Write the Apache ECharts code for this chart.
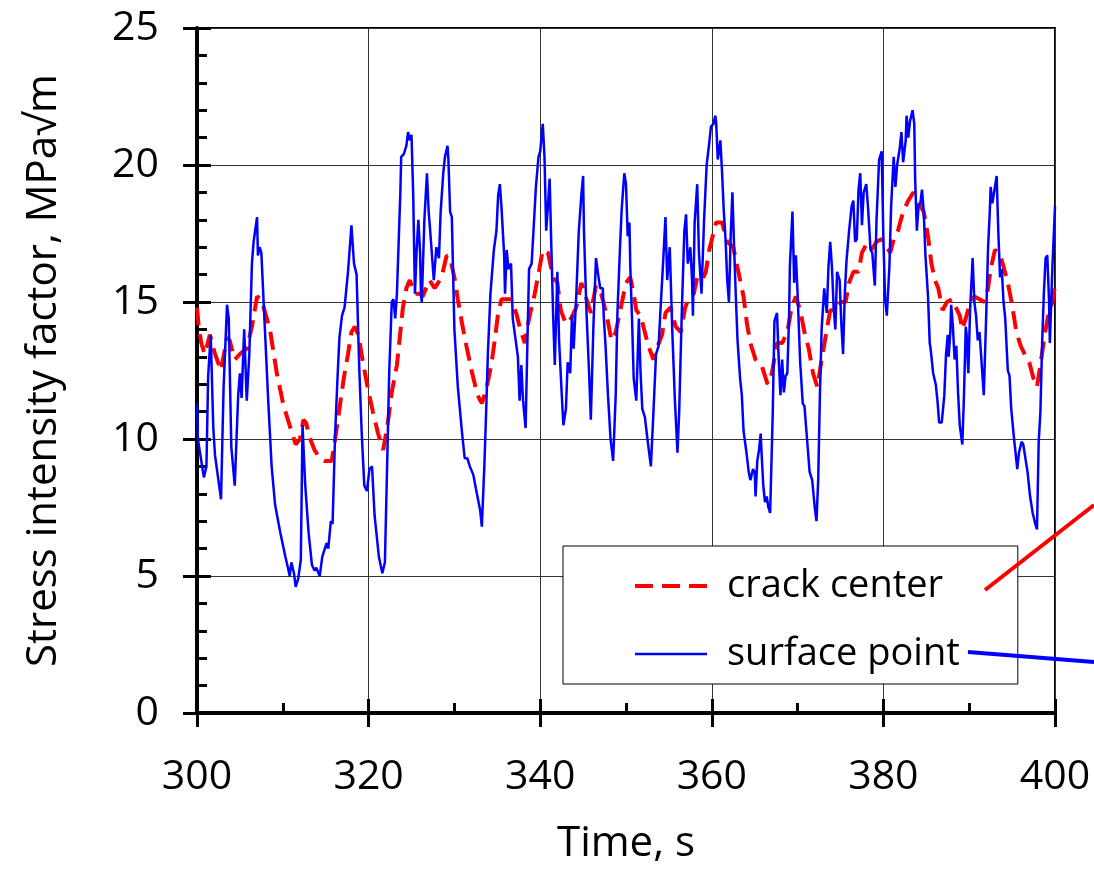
<!DOCTYPE html>
<html><head><meta charset="utf-8">
<script src="https://cdn.jsdelivr.net/npm/echarts@6/dist/echarts.min.js"></script>
<style>html,body{margin:0;padding:0;background:#fff}#c{width:1094px;height:870px}</style>
</head><body><div id="c"></div><script>
const xRange = [300, 400];
const xStep = 20;
const yRange = [0, 25];
const yStep = 5;

const surfaceTime = [300.0,300.1,300.8,301.1,301.3,301.6,301.9,302.1,302.3,302.8,303.1,303.5,303.7,304.0,304.4,304.8,305.0,305.2,305.5,305.8,306.1,306.4,306.6,307.0,307.1,307.3,307.5,307.9,308.3,308.7,309.1,309.7,310.3,310.6,310.8,311.0,311.3,311.5,311.8,312.1,312.3,312.6,313.0,313.4,313.7,313.9,314.3,314.6,315.1,315.3,315.6,315.8,316.1,316.4,316.6,316.9,317.1,317.2,317.6,318.0,318.3,318.6,318.9,319.2,319.5,319.8,320.1,320.4,320.7,321.2,321.6,321.9,322.2,322.4,322.7,322.9,323.1,323.3,323.7,323.8,324.1,324.4,324.6,324.8,325.0,325.2,325.4,325.6,325.8,326.0,326.1,326.2,326.5,326.8,327.0,327.2,327.4,327.6,327.9,328.2,328.4,328.7,328.9,329.2,329.3,329.5,329.7,330.0,330.4,330.6,330.9,331.2,331.5,331.8,332.2,332.5,333.0,333.2,333.5,333.7,333.9,334.2,334.6,334.9,335.1,335.3,335.5,335.8,335.9,336.1,336.3,336.6,336.8,337.1,337.4,337.6,337.8,338.0,338.3,338.5,338.7,339.0,339.2,339.5,339.8,340.0,340.3,340.5,340.7,340.9,341.1,341.3,341.5,341.7,342.0,342.2,342.5,342.7,343.0,343.2,343.5,343.7,343.9,344.2,344.5,344.8,345.0,345.1,345.4,345.7,345.9,346.2,346.5,346.8,347.0,347.3,347.4,347.6,347.9,348.2,348.5,348.8,349.0,349.3,349.5,349.8,350.0,350.2,350.4,350.5,350.7,350.9,351.2,351.5,351.7,351.9,352.2,352.5,352.9,353.2,353.5,353.8,354.0,354.3,354.6,354.8,355.1,355.4,355.7,356.0,356.2,356.5,356.8,357.0,357.2,357.5,357.7,357.8,358.0,358.3,358.5,358.8,359.1,359.4,359.7,359.9,360.2,360.4,360.5,360.7,361.0,361.2,361.4,361.6,361.8,362.0,362.2,362.4,362.6,362.8,363.0,363.3,363.5,363.7,364.0,364.3,364.5,364.8,365.0,365.1,365.3,365.5,365.7,365.8,366.0,366.2,366.4,366.6,366.8,367.1,367.3,367.6,367.8,368.0,368.2,368.4,368.6,368.8,369.0,369.1,369.4,369.6,369.8,370.0,370.3,370.6,370.8,371.1,371.4,371.7,372.0,372.2,372.4,372.6,372.8,373.1,373.2,373.4,373.6,373.8,374.0,374.2,374.4,374.6,374.9,375.1,375.3,375.5,375.7,376.0,376.3,376.5,376.7,376.9,377.1,377.3,377.5,377.7,378.0,378.2,378.5,378.7,379.0,379.2,379.5,379.8,380.0,380.2,380.4,380.7,380.9,381.2,381.4,381.6,381.9,382.1,382.3,382.6,382.7,382.9,383.1,383.4,383.6,383.7,383.9,384.1,384.3,384.5,384.7,384.9,385.2,385.4,385.5,385.8,386.1,386.3,386.5,386.8,387.1,387.3,387.5,387.6,387.8,387.9,388.1,388.3,388.5,388.7,388.9,389.2,389.4,389.6,389.7,389.9,390.1,390.4,390.6,390.8,391.0,391.2,391.4,391.7,392.0,392.2,392.4,392.5,392.7,392.9,393.2,393.4,393.6,393.8,394.0,394.2,394.5,394.7,394.9,395.2,395.4,395.6,395.8,396.1,396.3,396.5,396.8,397.1,397.4,397.7,397.9,398.1,398.3,398.5,398.7,398.9,399.1,399.3,399.4,399.7,400.0];
const surfaceK = [11.3,10.0,8.6,9.0,12.3,13.8,10.4,9.4,9.4,7.8,11.9,14.9,14.4,9.7,8.3,11.6,12.4,11.5,14.0,11.4,13.1,16.4,17.2,18.1,16.7,17.0,16.8,14.1,11.4,9.0,7.6,6.6,5.7,5.3,5.0,5.5,5.1,4.6,4.9,5.6,10.5,8.4,6.6,5.4,5.2,5.3,5.0,5.7,6.2,6.0,7.0,6.9,10.2,12.4,13.7,14.5,14.5,14.8,16.1,17.8,16.4,16.0,12.7,10.2,8.3,8.1,8.9,9.0,7.2,5.7,5.1,5.5,9.6,12.4,15.0,15.1,14.4,15.3,19.0,20.3,20.4,20.7,21.2,20.9,21.1,18.9,15.3,16.9,18.0,16.8,15.3,15.0,18.0,19.7,18.3,17.5,17.5,15.8,17.0,16.6,18.3,19.7,20.3,20.7,20.2,18.3,18.1,14.0,11.9,11.9,10.2,9.3,9.3,9.0,8.7,8.2,7.4,6.8,9.1,11.0,13.1,15.3,16.9,17.6,18.9,19.3,18.4,16.7,15.3,16.9,16.2,16.4,14.4,13.7,13.0,11.4,12.7,11.4,10.4,13.4,16.2,16.4,17.5,19.2,20.3,20.5,21.5,20.3,17.6,18.5,19.5,17.0,14.6,12.7,16.1,13.6,11.7,10.5,11.1,12.8,12.4,14.5,13.3,15.2,17.6,18.9,19.6,17.6,14.6,12.4,10.7,14.1,16.6,15.9,15.5,15.5,14.5,13.5,11.6,10.0,9.2,11.6,14.6,17.0,18.4,19.7,19.3,17.4,17.9,16.3,14.4,12.2,11.4,14.4,12.4,11.1,10.8,10.0,9.0,11.0,13.1,13.4,14.6,16.3,18.1,15.8,17.0,13.9,11.4,9.5,11.0,14.6,17.6,18.2,16.4,17.0,15.8,14.5,17.9,19.3,16.8,15.3,18.0,20.0,20.8,21.4,21.5,21.8,21.6,20.2,20.9,19.7,18.3,17.3,15.8,15.0,17.4,19.0,17.0,15.2,13.6,12.2,11.6,10.3,9.6,8.8,8.5,8.9,8.8,7.9,9.2,9.6,10.2,9.5,8.3,7.7,7.9,7.5,7.3,10.9,14.3,14.6,12.9,11.6,12.9,11.7,12.3,12.4,14.4,16.3,18.3,15.7,16.7,15.3,12.8,11.3,11.2,10.0,8.8,8.5,7.5,7.0,8.5,11.6,14.0,15.5,15.2,14.6,16.3,17.2,16.3,14.8,14.0,16.1,15.8,14.2,13.1,15.3,16.5,17.6,18.5,18.7,17.2,17.3,19.1,19.7,17.8,19.0,19.3,18.5,16.9,16.8,15.6,18.0,20.2,20.5,17.3,15.1,14.5,16.3,18.5,20.3,19.2,20.0,20.6,21.2,20.1,20.9,21.8,21.0,21.6,22.0,21.5,19.5,17.6,18.5,18.6,19.1,18.3,16.7,15.2,13.5,13.3,12.4,12.0,11.4,10.6,10.6,11.6,13.1,13.8,13.0,13.9,14.9,14.1,12.9,13.4,11.7,10.5,9.8,11.7,14.1,13.8,12.4,14.7,16.6,15.0,14.5,13.6,13.9,13.0,11.6,14.7,17.0,18.3,19.2,18.6,19.0,19.6,17.5,15.9,16.2,15.0,14.4,12.5,12.3,11.1,10.1,9.5,8.9,9.5,9.9,9.8,9.8,8.8,7.9,7.3,6.9,6.7,9.9,11.0,13.5,15.3,16.6,16.7,15.1,13.5,16.3,18.5];

const centerTime = [300.0,300.2,300.5,300.9,301.5,302.1,302.8,303.5,303.8,304.4,305.0,305.8,306.4,307.0,307.5,308.5,309.3,310.1,310.8,311.5,312.0,312.4,312.7,313.2,313.7,314.3,314.9,315.7,316.1,316.6,317.1,317.6,318.0,318.4,318.8,319.4,320.0,320.5,321.1,321.7,322.2,322.7,323.3,323.7,324.0,324.4,324.8,325.4,326.0,326.3,327.1,327.7,328.5,329.1,329.5,330.0,330.4,330.9,331.4,332.0,332.7,333.2,333.7,334.3,334.7,335.1,335.5,336.1,336.6,337.2,337.6,338.2,338.7,339.3,339.9,340.3,340.9,341.5,342.0,342.4,343.0,343.6,344.2,344.8,345.3,345.9,346.5,347.1,347.7,348.3,348.8,349.4,350.0,350.5,350.9,351.2,351.7,352.2,352.6,353.2,353.7,354.2,354.6,355.2,355.8,356.4,356.9,357.4,357.9,358.3,358.9,359.3,359.7,360.1,360.5,361.2,361.8,362.5,363.1,363.7,364.1,364.5,365.1,365.8,366.5,367.0,367.6,368.2,368.8,369.3,369.8,370.3,370.8,371.3,371.8,372.3,372.8,373.3,373.8,374.4,375.0,375.6,376.0,376.5,377.1,377.5,378.0,378.6,379.2,379.8,380.4,380.8,381.2,381.7,382.3,382.9,383.5,384.1,384.7,385.2,385.6,386.0,386.4,386.9,387.4,388.0,388.9,389.2,389.6,390.1,390.6,391.2,391.8,392.2,392.5,393.0,393.5,394.0,394.5,395.0,395.5,396.0,396.6,397.0,397.5,397.9,398.3,398.8,399.2,399.7,400.0];
const centerK = [14.8,14.1,13.5,13.1,13.8,13.1,12.5,13.7,13.6,12.9,13.1,13.3,14.1,15.2,15.1,14.0,12.4,11.2,10.5,9.8,10.0,10.7,10.6,10.0,9.6,9.3,9.2,9.2,10.0,11.1,12.2,13.1,13.9,14.1,13.8,12.7,11.7,11.0,10.2,9.6,10.5,11.7,12.7,13.9,14.8,15.5,15.8,15.3,15.3,15.2,15.8,15.5,15.9,16.7,16.6,15.9,15.1,14.2,13.4,12.5,11.6,11.3,11.8,12.7,13.6,14.6,15.1,15.1,15.1,14.6,14.1,13.5,14.4,15.2,16.2,16.9,16.8,15.9,15.7,14.7,14.2,14.4,14.8,15.7,15.2,14.6,15.6,15.3,14.6,13.6,13.9,14.8,15.7,15.9,15.3,14.7,14.5,13.9,13.4,12.9,13.4,13.8,14.6,14.8,14.1,13.9,14.8,15.2,15.3,15.9,15.8,16.1,16.9,17.4,17.9,17.9,17.2,17.0,16.1,15.2,14.2,13.5,12.9,12.7,12.0,12.4,13.5,13.5,13.9,14.8,15.2,14.7,13.9,13.3,12.4,11.9,12.9,13.8,14.7,14.7,15.0,15.0,15.7,16.1,16.1,16.8,17.1,16.9,17.2,17.3,17.0,16.8,17.3,17.6,18.3,18.7,19.0,18.6,18.3,17.4,16.4,15.8,15.5,14.7,15.0,15.1,14.5,14.0,14.4,15.0,15.2,15.1,15.0,15.5,16.2,16.9,16.8,16.3,15.7,14.9,13.9,13.4,13.0,12.8,12.2,11.9,12.7,13.8,14.5,15.0,15.6];

const seriesNames = ['crack center', 'surface point'];
const xName = 'Time, s';
const yName = 'Stress intensity factor, MPa\u221Am';

const zip = (a, b) => a.map((v, i) => [v, b[i]]);
const FONT = 'Open Sans';

const chart = echarts.init(document.getElementById('c'), null, {renderer: 'canvas'});
const tickStyle = {color: '#000', width: 3};
const mainAxisCommon = {
  type: 'value',
  axisLine: {show: true, onZero: false, lineStyle: {color: '#000', width: 4}},
  axisTick: {show: true, inside: false, length: 14, lineStyle: tickStyle},
  splitLine: {show: true, lineStyle: {color: '#333', width: 1}},
  axisLabel: {color: '#000', fontFamily: FONT, fontSize: 41},
  nameLocation: 'middle',
  nameTextStyle: {color: '#000', fontFamily: FONT, fontSize: 42}
};
const overlayCommon = {
  type: 'value',
  axisLine: {show: false},
  axisLabel: {show: false},
  splitLine: {show: false},
  axisTick: {show: true, inside: true, length: 14, lineStyle: tickStyle},
  minorTick: {show: true, length: 10, lineStyle: tickStyle}
};

chart.setOption({
  animation: false,
  backgroundColor: '#fff',
  grid: {left: 197, right: 39, top: 28, bottom: 156, show: true, borderColor: '#000', borderWidth: 2, containLabel: false},
  xAxis: [
    Object.assign({}, mainAxisCommon, {min: xRange[0], max: xRange[1], interval: xStep, position: 'bottom',
      name: xName, nameGap: 110,
      axisLabel: Object.assign({}, mainAxisCommon.axisLabel, {margin: 44})}),
    Object.assign({}, overlayCommon, {min: xRange[0], max: xRange[1], interval: xStep, position: 'bottom',
      minorTick: Object.assign({}, overlayCommon.minorTick, {splitNumber: 2})})
  ],
  yAxis: [
    Object.assign({}, mainAxisCommon, {min: yRange[0], max: yRange[1], interval: yStep, position: 'left',
      name: yName, nameGap: 132,
      axisLabel: Object.assign({}, mainAxisCommon.axisLabel, {margin: 38})}),
    Object.assign({}, overlayCommon, {min: yRange[0], max: yRange[1], interval: yStep, position: 'left',
      minorTick: Object.assign({}, overlayCommon.minorTick, {splitNumber: 5})})
  ],
  legend: {
    orient: 'vertical',
    left: 563, top: 546,
    padding: [20, 58, 10, 70],
    itemGap: 28,
    itemWidth: 72, itemHeight: 14,
    backgroundColor: '#fff',
    borderColor: '#000', borderWidth: 1, borderRadius: 0,
    itemStyle: {opacity: 0},
    lineStyle: {width: 'inherit', type: 'inherit'},
    data: seriesNames,
    textStyle: {color: '#000', fontFamily: FONT, fontSize: 38, lineHeight: 40, padding: [0, 0, 0, 15]}
  },
  series: [
    {name: seriesNames[0], type: 'line', xAxisIndex: 0, yAxisIndex: 0, data: zip(centerTime, centerK),
     showSymbol: false, symbol: 'none', z: 3,
     lineStyle: {color: '#ff0000', width: 4, type: [18, 9]}, itemStyle: {color: '#ff0000'}},
    {name: seriesNames[1], type: 'line', xAxisIndex: 0, yAxisIndex: 0, data: zip(surfaceTime, surfaceK),
     showSymbol: false, symbol: 'none', z: 4,
     lineStyle: {color: '#0000ff', width: 2.5}, itemStyle: {color: '#0000ff'}}
  ],
  graphic: [
    {type: 'line', z: 100, shape: {x1: 985, y1: 590, x2: 1094, y2: 505}, style: {stroke: '#ff0000', lineWidth: 4}},
    {type: 'line', z: 100, shape: {x1: 968, y1: 652, x2: 1094, y2: 662}, style: {stroke: '#0000ff', lineWidth: 4}}
  ]
});
</script></body></html>
